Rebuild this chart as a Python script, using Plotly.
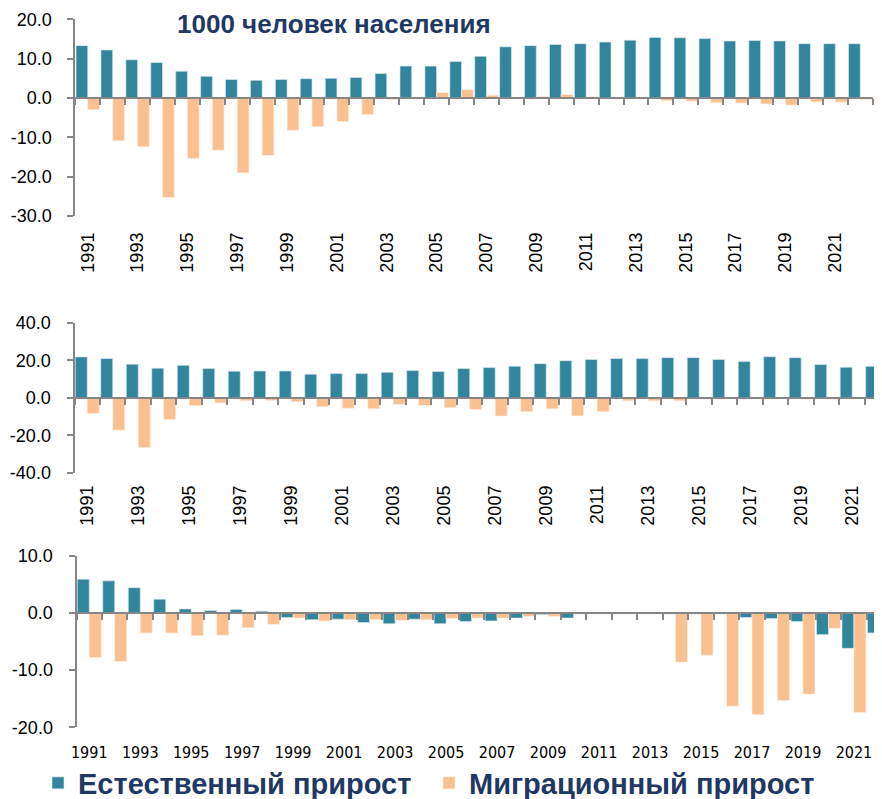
import plotly.graph_objects as go

# ---------------- data ----------------
years = list(range(1991, 2023))
tick_years = [y for y in years if y % 2 == 1]
tick_text = [str(y) for y in tick_years]

series_names = ["Естественный прирост", "Миграционный прирост"]
title_text = "1000 человек населения"

nat_1 = [13.3, 12.2, 9.7, 9.0, 6.8, 5.5, 4.7, 4.5, 4.7, 4.9, 5.0, 5.2, 6.2, 8.1, 8.1, 9.3,
         10.6, 13.0, 13.3, 13.6, 13.8, 14.2, 14.7, 15.4, 15.3, 15.1, 14.5, 14.6, 14.5, 13.8, 13.8, 13.8]
mig_1 = [-3.0, -10.9, -12.4, -25.3, -15.4, -13.3, -19.0, -14.6, -8.2, -7.3, -6.0, -4.2, -0.4, 0.1, 1.4, 2.1,
         0.7, 0.1, 0.4, 0.9, 0.3, 0.1, 0.0, -0.7, -0.8, -1.2, -1.3, -1.5, -1.8, -1.0, -1.1, -0.4]

nat_2 = [21.8, 20.9, 17.9, 15.8, 17.3, 15.6, 14.2, 14.3, 14.3, 12.6, 12.9, 12.9, 13.6, 14.5, 14.0, 15.6,
         16.1, 16.8, 18.2, 19.8, 20.4, 20.9, 20.9, 21.4, 21.4, 20.4, 19.3, 21.9, 21.4, 17.7, 16.3, 16.8]
mig_2 = [-8.3, -17.2, -26.5, -11.5, -4.2, -2.7, -1.6, -1.4, -2.1, -4.8, -5.5, -5.8, -3.5, -4.1, -5.3, -6.2,
         -9.7, -7.4, -5.8, -9.6, -7.4, -1.6, -1.6, -1.6, -0.5, -0.5, -0.3, -0.3, -0.7, -0.7, -0.3, 0.8]

nat_3 = [5.9, 5.6, 4.4, 2.4, 0.7, 0.4, 0.6, 0.3, -0.8, -1.2, -1.1, -1.7, -1.9, -1.1, -1.9, -1.5,
         -1.4, -0.9, -0.3, -0.9, -0.1, 0.0, 0.0, -0.2, -0.2, -0.2, -0.8, -1.0, -1.5, -3.8, -6.2, -3.5]
mig_3 = [-7.8, -8.5, -3.5, -3.5, -4.0, -3.9, -2.6, -2.0, -0.9, -1.4, -1.2, -1.2, -1.3, -1.2, -1.0, -0.9,
         -0.9, -0.6, -0.6, -0.1, -0.1, 0.0, 0.0, -8.6, -7.4, -16.3, -17.8, -15.3, -14.2, -2.7, -17.4, -16.9]

panels = [
    dict(nat=nat_1, mig=mig_1, yrange=[-30, 20], yticks=[-30, -20, -10, 0, 10, 20]),
    dict(nat=nat_2, mig=mig_2, yrange=[-40, 40], yticks=[-40, -20, 0, 20, 40]),
    dict(nat=nat_3, mig=mig_3, yrange=[-20, 10], yticks=[-20, -10, 0, 10]),
]

# ---------------- styling / layout ----------------
# the page has an 8px body margin, so the figure is drawn 8px in from the window corner
PAGE_W, PAGE_H = 882, 799
OFF = 8
W, H = PAGE_W - OFF, PAGE_H - OFF

teal = "#31859C"
peach = "#FAC090"
navy = "#1F3864"
gray = "#868686"
tick_font = dict(family="Liberation Sans, Arial, sans-serif", size=18, color="#000000")
narrow_font = dict(family="Liberation Sans Narrow, Arial Narrow, DejaVu Sans Condensed, sans-serif",
                   size=16, color="#000000")

# page-pixel geometry of each plot area: (left, right), (top, bottom), x range
geom = [
    dict(px=(75.3, 872.7), py=(19.3, 216.0), xr=[1990.5, 2022.5], angle=-90, font=tick_font, stand=12),
    dict(px=(74.5, 882.0), py=(322.7, 473.0), xr=[1990.5, 2022.17], angle=-90, font=tick_font, stand=8),
    dict(px=(76.5, 882.0), py=(555.7, 727.3), xr=[1990.5, 2022.1], angle=0, font=narrow_font, stand=14),
]


def fx(px):
    return min(1.0, max(0.0, (px - OFF) / W))


def fy(py):
    return min(1.0, max(0.0, 1 - (py - OFF) / H))


fig = go.Figure()
layout = dict(
    width=W, height=H,
    margin=dict(l=0, r=0, t=0, b=0, autoexpand=False),
    paper_bgcolor="white", plot_bgcolor="white",
    barmode="group", bargap=0.06, bargroupgap=0.0,
)

for i, (p, g) in enumerate(zip(panels, geom)):
    n = i + 1
    xs = "" if n == 1 else str(n)
    xd = [fx(g["px"][0]), fx(g["px"][1])]
    yd = [fy(g["py"][1]), fy(g["py"][0])]

    fig.add_trace(go.Bar(x=years, y=p["nat"], name=series_names[0], marker=dict(color=teal,
                         line=dict(color="rgba(220,235,240,0.8)", width=0.8)),
                         xaxis="x" + xs, yaxis="y" + xs, showlegend=(n == 1), legendgroup="nat"))
    fig.add_trace(go.Bar(x=years, y=p["mig"], name=series_names[1], marker=dict(color=peach,
                         line=dict(color="rgba(255,240,225,0.8)", width=0.8)),
                         xaxis="x" + xs, yaxis="y" + xs, showlegend=(n == 1), legendgroup="mig"))

    # invisible helper trace on the zero-line axis so it is drawn
    zx = str(n + 3)
    fig.add_trace(go.Scatter(x=years, y=p["nat"], mode="markers", marker=dict(opacity=0),
                             hoverinfo="skip", showlegend=False, xaxis="x" + zx, yaxis="y" + xs))

    y0, y1 = p["yrange"]
    zero_frac = (0 - y0) / (y1 - y0)
    zero_pos = yd[0] + zero_frac * (yd[1] - yd[0])

    layout["xaxis" + xs] = dict(
        domain=xd, anchor="y" + xs, range=g["xr"], showline=False, showgrid=False, zeroline=False,
        tickmode="array", tickvals=tick_years, ticktext=tick_text, tickangle=g["angle"],
        ticks="", tickfont=g["font"], ticklabelstandoff=g["stand"], automargin=False,
    )
    layout["xaxis" + zx] = dict(
        domain=xd, overlaying="x" + xs, anchor="free", position=zero_pos, range=g["xr"],
        showline=True, linecolor=gray, linewidth=2, showgrid=False, zeroline=False,
        tickmode="linear", tick0=1990.5, dtick=1, ticks="outside", ticklen=6, tickwidth=2,
        tickcolor=gray, showticklabels=False, automargin=False,
    )
    layout["yaxis" + xs] = dict(
        domain=yd, anchor="x" + xs, range=p["yrange"], showline=True, linecolor=gray, linewidth=2,
        showgrid=False, zeroline=False, tickmode="array", tickvals=p["yticks"],
        ticktext=[f"{v:.1f}" for v in p["yticks"]], ticks="outside", ticklen=6, tickwidth=2,
        tickcolor=gray, tickfont=tick_font, ticklabelstandoff=12, automargin=False,
    )

layout["legend"] = dict(
    orientation="h", x=fx(38), xanchor="left", y=fy(783), yanchor="middle",
    font=dict(family="Liberation Sans, Arial, sans-serif", size=29, color=navy, weight="bold"),
    entrywidth=346, entrywidthmode="pixels", bgcolor="rgba(0,0,0,0)", traceorder="normal",
)
layout["annotations"] = [dict(
    text=title_text, xref="paper", yref="paper", x=fx(334), y=1.0,
    xanchor="center", yanchor="top", showarrow=False, borderpad=0,
    font=dict(family="Liberation Sans, Arial, sans-serif", size=26, color=navy, weight="bold"),
)]

fig.update_layout(**layout)
fig.write_html("out.html")
